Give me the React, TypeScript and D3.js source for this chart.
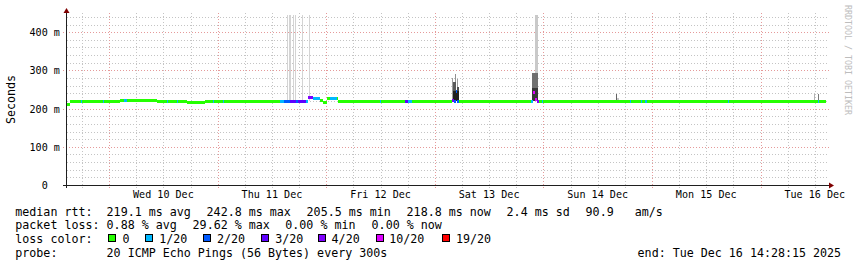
import React from 'react';
import * as d3 from 'd3';

const startTime = '2025-12-09 14:28:15';
const endTime = '2025-12-16 14:28:15';

const yTickValues = [0, 0.1, 0.2, 0.3, 0.4];
const yTickLabels = ['  0  ', '100 m', '200 m', '300 m', '400 m'];
const dayLabels = ['Wed 10 Dec', 'Thu 11 Dec', 'Fri 12 Dec', 'Sat 13 Dec', 'Sun 14 Dec', 'Mon 15 Dec', 'Tue 16 Dec'];

// median rtt (ms) as a step series: each value holds until the next time
const medianTimes = [
  '2025-12-09 14:40', '2025-12-09 15:20', '2025-12-09 17:42', '2025-12-09 17:55', '2025-12-09 22:42',
  '2025-12-09 22:55', '2025-12-10 02:23', '2025-12-10 03:18', '2025-12-10 03:52', '2025-12-10 10:34',
  '2025-12-10 12:50', '2025-12-10 13:03', '2025-12-10 14:55', '2025-12-10 15:08', '2025-12-10 17:12',
  '2025-12-10 21:11', '2025-12-10 23:00', '2025-12-10 23:13', '2025-12-11 01:05', '2025-12-11 01:18',
  '2025-12-11 13:45', '2025-12-11 14:38', '2025-12-11 15:58', '2025-12-11 17:17', '2025-12-11 17:44',
  '2025-12-11 19:30', '2025-12-11 19:56', '2025-12-11 21:03', '2025-12-11 22:35', '2025-12-11 23:15',
  '2025-12-12 00:08', '2025-12-12 00:48', '2025-12-12 02:21', '2025-12-12 02:34', '2025-12-12 11:51',
  '2025-12-12 12:04', '2025-12-12 17:22', '2025-12-12 18:02', '2025-12-12 18:55', '2025-12-13 03:45',
  '2025-12-13 04:12', '2025-12-13 04:39', '2025-12-13 04:52', '2025-12-13 05:18', '2025-12-13 21:13',
  '2025-12-13 21:40', '2025-12-13 22:06', '2025-12-13 22:33', '2025-12-13 22:59', '2025-12-13 23:39',
  '2025-12-13 23:52', '2025-12-14 19:06', '2025-12-14 19:19', '2025-12-14 21:32', '2025-12-14 21:45',
  '2025-12-14 22:25', '2025-12-14 22:51', '2025-12-15 16:47', '2025-12-15 17:00', '2025-12-16 12:40',
  '2025-12-16 12:53',
];
const medianMs = [
  212, 218.6, 218.6, 218.6, 218.6,
  218.6, 220.7, 220.7, 220.7, 218.6,
  218.6, 218.6, 218.6, 218.6, 216.8,
  218.6, 218.6, 218.6, 218.6, 218.6,
  218.6, 218.6, 218.6, 218.6, 218.6,
  218.6, 229, 226, 221, 216,
  226, 226, 226, 217.6, 217.6,
  217.6, 217.6, 217.6, 217.6, 221,
  218.6, 244, 217.6, 217.6, 217.6,
  242, 224, 217.6, 217.6, 217.6,
  217.6, 217.6, 217.6, 217.6, 217.6,
  217.6, 217.6, 217.6, 217.6, 217.6,
  217.6,
];
const medianLoss = [
  0, 0, 1, 0, 1,
  0, 0, 1, 0, 0,
  1, 0, 1, 0, 0,
  0, 1, 0, 1, 0,
  1, 2, 3, 2, 3,
  1, 4, 1, 0, 0,
  0, 1, 0, 0, 1,
  0, 3, 1, 0, 4,
  2, 2, 2, 0, 1,
  10, 10, 4, 0, 1,
  0, 1, 0, 1, 0,
  1, 0, 1, 0, 1,
  0,
];
const medianEnd = '2025-12-16 14:26';

// smoke: spread of the individual pings (ms) and how many pings fall in that band
const smokeStart = [
  '2025-12-11 15:18', '2025-12-11 15:44', '2025-12-11 16:37', '2025-12-11 17:04', '2025-12-11 18:37',
  '2025-12-11 20:10',
  '2025-12-13 03:45', '2025-12-13 03:58', '2025-12-13 04:26', '2025-12-13 04:52', '2025-12-13 04:52',
  '2025-12-13 03:58', '2025-12-13 22:06', '2025-12-13 21:27', '2025-12-13 21:27', '2025-12-14 16:00',
  '2025-12-14 16:13', '2025-12-16 11:47', '2025-12-16 12:40',
];
const smokeEnd = [
  '2025-12-11 15:31', '2025-12-11 16:10', '2025-12-11 16:50', '2025-12-11 17:17', '2025-12-11 18:50',
  '2025-12-11 20:23',
  '2025-12-13 03:58', '2025-12-13 04:39', '2025-12-13 04:39', '2025-12-13 05:18', '2025-12-13 05:05',
  '2025-12-13 05:18', '2025-12-13 22:46', '2025-12-13 22:46', '2025-12-13 22:46', '2025-12-14 16:13',
  '2025-12-14 16:40', '2025-12-16 12:00', '2025-12-16 12:53',
];
const smokeLoMs = [
  220, 220, 220, 220, 220,
  220,
  220, 220, 220, 220, 220,
  220, 220, 220, 220, 220,
  220, 220, 220,
];
const smokeHiMs = [
  500, 500, 500, 500, 500,
  500,
  279, 270, 290, 257, 278,
  245, 500, 292, 255, 238,
  229, 238, 238,
];
const smokePings = [
  1, 1, 1, 1, 1,
  1,
  6, 12, 7, 13, 6,
  17, 2, 10, 15, 11,
  2, 4, 9,
];

const lossLevels = [0, 1, 2, 3, 4, 10, 19];
const lossLabels = ['0', '1/20', '2/20', '3/20', '4/20', '10/20', '19/20'];
const lossColors = ['#26ff00', '#00b8ff', '#0059ff', '#5e00ff', '#7e00ff', '#dd00ff', '#ff0000'];

const rttStats = ['219.1 ms avg', '242.8 ms max', '205.5 ms min', '218.8 ms now', '2.4 ms sd', '90.9   am/s'];
const lossStats = ['0.88 % avg', '29.62 % max', '0.00 % min', '0.00 % now'];
const probeText = '20 ICMP Echo Pings (56 Bytes) every 300s';
const endText = 'end: Tue Dec 16 14:28:15 2025';

const MONO = '"DejaVu Sans Mono", monospace';

export default function App() {
  const parseMin = d3.timeParse('%Y-%m-%d %H:%M');
  const parseSec = d3.timeParse('%Y-%m-%d %H:%M:%S');
  const t0 = parseSec(startTime) as Date;
  const t1 = parseSec(endTime) as Date;
  const x = d3.scaleTime().domain([t0, t1]).range([66, 826]);
  const y = d3.scaleLinear().domain([0, 0.445]).range([185, 15]);
  const px = (d: Date) => Math.round(x(d));

  const lossColor = (l: number) => {
    let c = lossColors[0];
    lossLevels.forEach((lv, i) => { if (l >= lv) c = lossColors[i]; });
    return c;
  };
  const shade = d3.scaleLinear<string>().domain([1, 20]).range(['#d4d4d4', '#000000']);

  const plotL = 66, plotR = 829, plotTop = 13, axisY = 185;

  // grid
  const hMinor = d3.range(1, 23).map(i => i * 0.02).filter(v => Math.round(v * 100) % 10 !== 0);
  const hMajor = yTickValues.filter(v => v > 0);
  const sixH = d3.timeHour.every(6)!.range(t0, t1);
  const vMinor = sixH.filter(d => d.getHours() !== 0);
  const vMajor = d3.timeDay.range(t0, t1);
  const labelTimes = d3.timeDay.range(t0, t1).map(d => d3.timeHour.offset(d, 12));

  const med = medianTimes.map((t, i) => {
    const a = parseMin(t) as Date;
    const b = parseMin(i + 1 < medianTimes.length ? medianTimes[i + 1] : medianEnd) as Date;
    return { a, b, v: medianMs[i] / 1000, loss: medianLoss[i] };
  });
  const smoke = smokeStart.map((s, i) => ({
    a: parseMin(s) as Date,
    b: parseMin(smokeEnd[i]) as Date,
    lo: smokeLoMs[i] / 1000,
    hi: smokeHiMs[i] / 1000,
    n: smokePings[i],
  })).sort((p, q) => p.n - q.n);

  const minorGrid = '#c4c4c4';
  const majorGrid = '#e59a9a';
  const legendX = [107.3, 207.3, 307.3, 407.3, 507.3, 586.3];
  const lossX = [107.3, 193.3, 286, 372.3];
  const boxX = [108, 145, 203, 261, 318, 376, 442];
  const boxLabelX = [123.3, 160, 217.7, 276, 332.3, 390, 456.7];
  const b = 0.7; // glyph side bearing

  return (
    <svg width={857} height={267} style={{ position: 'absolute', left: 0, top: 0, background: '#fff' }}>
      <defs>
        <clipPath id="plot">
          <rect x={67} y={15} width={plotR - 67} height={axisY - 15} />
        </clipPath>
      </defs>
      <rect x={0} y={0} width={857} height={267} fill="#fff" />

      {/* grid */}
      <g strokeWidth={1} strokeDasharray="1,2" shapeRendering="crispEdges">
        {hMinor.map(v => (
          <line key={'hm' + v} x1={67} x2={plotR} y1={Math.round(y(v)) + 0.5} y2={Math.round(y(v)) + 0.5} stroke={minorGrid} />
        ))}
        {vMinor.map(d => (
          <line key={'vm' + d.getTime()} x1={px(d) + 0.5} x2={px(d) + 0.5} y1={plotTop} y2={axisY + 3} stroke={minorGrid} />
        ))}
        {hMajor.map(v => (
          <line key={'hM' + v} x1={63} x2={plotR} y1={Math.round(y(v)) + 0.5} y2={Math.round(y(v)) + 0.5} stroke={majorGrid} />
        ))}
        {vMajor.map(d => (
          <line key={'vM' + d.getTime()} x1={px(d) + 0.5} x2={px(d) + 0.5} y1={plotTop} y2={axisY + 4} stroke={majorGrid} />
        ))}
      </g>

      {/* smoke and median */}
      <g clipPath="url(#plot)" shapeRendering="crispEdges">
        {smoke.map((s, i) => {
          const xa = px(s.a), xb = px(s.b);
          const ya = Math.round(y(s.hi)), yb = Math.round(y(s.lo));
          return <rect key={'s' + i} x={xa} y={ya} width={Math.max(1, xb - xa)} height={yb - ya} fill={shade(s.n)} />;
        })}
        {med.map((m, i) => {
          const xa = px(m.a), xb = px(m.b);
          const top = Math.round(y(m.v) - 1.5);
          return <rect key={'m' + i} x={xa} y={top} width={Math.max(1, xb - xa)} height={3} fill={lossColor(m.loss)} />;
        })}
      </g>

      {/* axes */}
      <g shapeRendering="crispEdges" stroke="#1f1f1f" strokeWidth={1}>
        <line x1={plotL + 0.5} x2={plotL + 0.5} y1={axisY + 3} y2={plotTop} />
        <line x1={63} x2={plotR} y1={axisY + 0.5} y2={axisY + 0.5} />
      </g>
      <path d={`M${plotL + 0.5},8 L${plotL - 2.5},13 L${plotL + 3.5},13 Z`} fill="#7f0000" />
      <path d={`M834,${axisY + 0.5} L829,${axisY - 2.5} L829,${axisY + 3.5} Z`} fill="#7f0000" />

      {/* tick labels */}
      <g fontFamily={MONO} fontSize={10.1} fill="#000">
        {yTickValues.map((v, i) => (
          <text key={'yl' + v} x={29.5} y={Math.round(y(v)) + 4} xmlSpace="preserve" style={{ whiteSpace: 'pre' }}>{yTickLabels[i]}</text>
        ))}
        {labelTimes.map((d, i) => (
          <text key={'xl' + i} x={x(d)} y={198} textAnchor="middle">{dayLabels[i]}</text>
        ))}
      </g>

      {/* y axis title */}
      <text transform="translate(15,99.5) rotate(-90)" textAnchor="middle" fontFamily={MONO} fontSize={11.66} fill="#000">Seconds</text>

      {/* watermark */}
      <text transform="translate(845,5) rotate(90)" fontFamily={MONO} fontSize={8.3} fill="#bdbdbd">RRDTOOL / TOBI OETIKER</text>

      {/* legend */}
      <g fontFamily={MONO} fontSize={11.66} fill="#000">
        <text x={16 - b} y={215.5}>median rtt:</text>
        {rttStats.map((s, i) => (
          <text key={'r' + i} x={legendX[i] - b} y={215.5} xmlSpace="preserve" style={{ whiteSpace: 'pre' }}>{s}</text>
        ))}
        <text x={16 - b} y={229}>packet loss:</text>
        {lossStats.map((s, i) => (
          <text key={'l' + i} x={lossX[i] - b} y={229}>{s}</text>
        ))}
        <text x={16 - b} y={243}>loss color:</text>
        {lossLabels.map((s, i) => (
          <g key={'c' + i}>
            <rect x={boxX[i] + 0.5} y={234.5} width={7} height={7} fill={lossColors[i]} stroke="#000" strokeWidth={1} shapeRendering="crispEdges" />
            <text x={boxLabelX[i] - b} y={243}>{s}</text>
          </g>
        ))}
        <text x={16 - b} y={257}>probe:</text>
        <text x={107.3 - b} y={257}>{probeText}</text>
        <text x={638.3 - b} y={257}>{endText}</text>
      </g>
    </svg>
  );
}
